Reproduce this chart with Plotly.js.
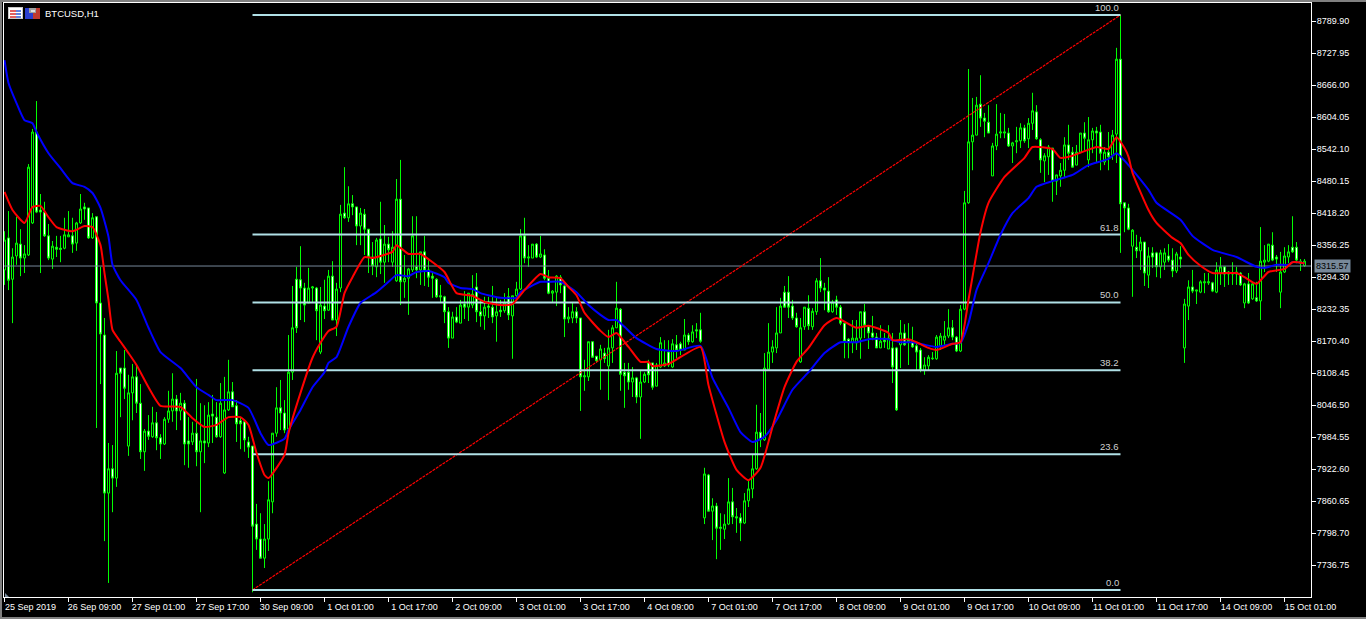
<!DOCTYPE html>
<html><head><meta charset="utf-8">
<script src="https://cdn.plot.ly/plotly-3.0.1.min.js"></script>
<style>html,body{margin:0;padding:0;background:#000;overflow:hidden}#c{width:1366px;height:619px}</style>
</head><body><div id="c"></div>
<script>
const tickLabels=["25 Sep 2019","26 Sep 09:00","27 Sep 01:00","27 Sep 17:00","30 Sep 09:00","1 Oct 01:00","1 Oct 17:00","2 Oct 09:00","3 Oct 01:00","3 Oct 17:00","4 Oct 09:00","7 Oct 01:00","7 Oct 17:00","8 Oct 09:00","9 Oct 01:00","9 Oct 17:00","10 Oct 09:00","11 Oct 01:00","11 Oct 17:00","14 Oct 09:00","15 Oct 01:00"];
const priceTicks=[8789.90,8727.95,8666.00,8604.05,8542.10,8480.15,8418.20,8356.25,8294.30,8232.35,8170.40,8108.45,8046.50,7984.55,7922.60,7860.65,7798.70,7736.75];
const directions="BWBBWBBBWW"+"WWBWWBBWBB"+"WWBWWWBWBW"+"WBBWWBWBWW"+"BBBWBWWBWB"+"WBWWBBBWWW"+"WWWWWBBBBW"+"WBBWWWBBWB"+"WBWBBWBWWB"+"WWWBWBWBBW"+"BBBWBWWWWW"+"WWBWBWBBWW"+"BWWBWBWBBB"+"WBBWBWWBBW"+"WBBWWBBWWB"+"WBBBWWWBWB"+"BWWBBBWBWW"+"BWBWWBWBWW"+"BBWWWBBBBW"+"BBBBBWWWWB"+"BWBBWWWBWW"+"WWBBBWWWWB"+"WBWWBWBWWW"+"BBBBBBBWWB"+"BBBBWWWBBB"+"BWBBBWBBWW"+"BBWBBBWWBB"+"WBBWWBWBBW"+"WWBWBWBWWB"+"BWWBWBBWBB"+"BBWBBWWBBW"+"BWBWBBBWWB"+"BBWWBB";
const highs=[8383,8422,8350,8411,8387,8356,8513,8581,8635,8455,8440,8397,8364,8374,8374,8409,8422,8409,8401,8455,8438,8428,8418,8411,8314,8215,7973,7969,8151,8118,8153,8105,8126,8122,8087,8000,8027,8043,8033,7990,8023,8074,8108,8066,8070,8056,8023,8014,8097,8050,8046,8052,8066,8052,8089,8101,8134,8091,8056,8023,8017,7985,7967,7855,7837,7816,7899,7992,8081,8095,8056,8182,8277,8314,8354,8283,8312,8277,8275,8275,8289,8308,8325,8283,8434,8507,8470,8453,8430,8428,8426,8387,8362,8370,8440,8395,8372,8383,8484,8521,8337,8312,8412,8412,8343,8374,8327,8304,8292,8279,8258,8236,8227,8236,8250,8267,8263,8298,8302,8250,8256,8256,8277,8256,8250,8263,8273,8258,8285,8387,8409,8356,8358,8360,8374,8348,8308,8269,8298,8298,8279,8236,8246,8236,8215,8134,8169,8169,8141,8163,8157,8192,8201,8285,8234,8128,8128,8120,8101,8114,8110,8134,8128,8128,8178,8172,8172,8174,8182,8169,8213,8186,8201,8205,8225,7925,7913,7866,7857,7837,7835,7905,7886,7847,7837,7876,7901,7950,8047,8031,8147,8205,8172,8236,8254,8277,8296,8250,8225,8215,8236,8259,8234,8292,8331,8283,8294,8250,8258,8240,8205,8176,8211,8211,8227,8242,8198,8219,8186,8201,8186,8201,8186,8159,8211,8203,8205,8198,8167,8157,8139,8143,8149,8182,8186,8209,8232,8211,8180,8240,8461,8697,8641,8643,8685,8612,8627,8554,8629,8612,8610,8583,8556,8585,8592,8589,8602,8651,8627,8563,8534,8550,8544,8492,8515,8565,8589,8546,8550,8573,8594,8604,8583,8585,8589,8546,8575,8579,8738,8802,8438,8436,8387,8376,8372,8362,8352,8352,8343,8347,8350,8358,8350,8343,8354,8252,8288,8308,8269,8288,8302,8302,8285,8323,8333,8314,8306,8323,8314,8304,8283,8302,8283,8285,8391,8356,8358,8381,8337,8343,8352,8356,8412,8362,8329,8329];
const bodyTops=[8366,8370,8333,8360,8358,8339,8507,8575,8575,8424,8420,8374,8354,8352,8350,8376,8376,8374,8399,8426,8430,8428,8409,8411,8244,8182,7923,7923,8108,8118,8118,8070,8101,8101,8050,7996,7996,8012,8012,7983,8019,8035,8058,8058,8050,8050,7977,7992,7992,7977,7977,8027,8029,8023,8050,8037,8072,8072,8045,8016,8014,7975,7967,7816,7787,7787,7863,7992,8041,8041,8031,8110,8196,8290,8289,8273,8273,8275,8273,8240,8238,8296,8296,8271,8416,8418,8436,8436,8430,8418,8416,8387,8333,8366,8368,8358,8358,8352,8445,8445,8292,8310,8374,8314,8343,8343,8308,8296,8290,8258,8256,8227,8217,8217,8240,8242,8263,8261,8275,8227,8236,8238,8236,8227,8230,8244,8256,8258,8271,8374,8374,8333,8358,8358,8339,8337,8292,8267,8296,8294,8277,8217,8227,8227,8215,8103,8169,8169,8141,8155,8147,8157,8196,8234,8232,8110,8110,8099,8099,8091,8106,8128,8128,8124,8167,8128,8149,8165,8163,8165,8182,8182,8188,8192,8192,7913,7911,7851,7851,7810,7816,7859,7859,7830,7828,7861,7884,7923,7994,7994,8118,8149,8159,8186,8238,8265,8265,8238,8215,8196,8236,8234,8228,8287,8287,8273,8267,8246,8250,8236,8205,8174,8176,8176,8227,8227,8198,8186,8178,8170,8176,8176,8157,8157,8186,8186,8172,8170,8161,8153,8124,8139,8137,8178,8180,8180,8196,8196,8178,8232,8438,8556,8569,8627,8629,8602,8594,8548,8571,8575,8575,8573,8554,8558,8583,8583,8592,8616,8614,8560,8529,8546,8544,8492,8501,8550,8550,8536,8536,8573,8573,8560,8577,8577,8575,8536,8536,8569,8716,8716,8438,8428,8385,8352,8362,8362,8335,8341,8341,8341,8341,8335,8327,8339,8333,8242,8275,8275,8269,8285,8285,8285,8283,8308,8314,8314,8304,8302,8304,8302,8281,8281,8281,8254,8325,8327,8358,8356,8333,8304,8335,8343,8352,8352,8325,8325];
const bodyBottoms=[8308,8288,8290,8335,8331,8331,8337,8399,8420,8420,8374,8331,8329,8348,8348,8350,8372,8358,8360,8399,8426,8370,8370,8244,8184,7876,7876,7905,7905,8108,8079,7967,8070,8050,7956,7956,7986,7985,7983,7971,7971,8019,8035,8035,8035,7971,7971,7975,7956,7956,7973,7973,8025,7985,7985,7915,8037,8043,8010,8010,7979,7965,7812,7787,7750,7750,7787,7859,7992,8031,7998,8000,8110,8196,8273,8240,8244,8273,8229,8149,8229,8230,8211,8211,8273,8409,8409,8430,8393,8393,8387,8333,8316,8314,8323,8323,8347,8323,8287,8285,8285,8292,8308,8308,8308,8308,8294,8292,8256,8256,8227,8176,8176,8207,8205,8236,8236,8240,8227,8219,8219,8236,8217,8219,8227,8229,8221,8219,8258,8271,8331,8331,8331,8333,8333,8292,8263,8263,8265,8279,8213,8213,8215,8215,8101,8101,8101,8139,8132,8134,8136,8122,8157,8196,8106,8103,8091,8091,8062,8062,8091,8105,8081,8083,8120,8122,8124,8120,8153,8153,8153,8169,8169,8190,8170,7828,7841,7841,7808,7808,7806,7816,7830,7828,7818,7818,7861,7884,7923,7979,7979,8116,8149,8157,8186,8236,8236,8215,8198,8130,8198,8200,8198,8227,8273,8269,8227,8227,8236,8205,8170,8167,8167,8167,8176,8201,8186,8178,8157,8157,8169,8155,8120,8037,8163,8163,8169,8159,8149,8114,8114,8122,8136,8136,8161,8172,8180,8178,8151,8151,8232,8438,8556,8569,8602,8596,8573,8490,8548,8573,8573,8548,8548,8556,8558,8558,8562,8592,8562,8521,8519,8527,8480,8480,8490,8501,8534,8507,8511,8536,8563,8521,8560,8573,8534,8517,8527,8530,8571,8436,8428,8387,8354,8345,8345,8302,8298,8333,8314,8314,8323,8327,8306,8306,8329,8157,8238,8267,8267,8265,8283,8283,8267,8265,8302,8300,8300,8300,8300,8279,8244,8244,8252,8248,8248,8323,8325,8327,8329,8265,8304,8333,8343,8327,8321,8316];
const lows=[8279,8269,8205,8318,8296,8302,8335,8397,8418,8302,8372,8327,8310,8333,8323,8348,8372,8341,8345,8397,8405,8368,8368,8002,8087,7783,7702,7839,7888,8023,8058,7948,8017,8031,7942,7919,7979,7983,7959,7942,7969,8012,8014,7998,8017,7930,7925,7969,7928,7839,7934,7965,7973,7983,7983,7913,8035,8043,7975,7961,7956,7944,7684,7766,7750,7731,7764,7837,7985,7998,7992,7998,8095,8186,8211,8207,8244,8246,8172,8145,8213,8229,8211,8180,8265,8407,8401,8414,8356,8356,8337,8302,8298,8294,8300,8283,8323,8314,8285,8240,8254,8221,8304,8292,8279,8277,8275,8254,8254,8244,8205,8157,8176,8205,8205,8213,8209,8234,8207,8198,8192,8215,8205,8169,8217,8225,8211,8136,8250,8269,8321,8314,8331,8331,8331,8288,8261,8246,8238,8263,8178,8205,8205,8205,8035,8074,8093,8139,8128,8076,8128,8056,8128,8196,8074,8041,8076,8062,8050,7981,8089,8089,8076,8083,8118,8120,8120,8118,8137,8143,8153,8163,8167,8176,8167,7816,7841,7785,7748,7766,7787,7814,7816,7799,7783,7816,7849,7866,7921,7965,7977,8116,8128,8147,8186,8236,8215,8211,8196,8128,8192,8192,8192,8221,8265,8230,8225,8225,8221,8201,8137,8137,8147,8153,8136,8176,8155,8172,8157,8157,8157,8155,8089,8035,8118,8161,8124,8157,8114,8110,8105,8114,8134,8134,8153,8163,8176,8172,8149,8149,8230,8436,8501,8569,8585,8565,8573,8490,8540,8563,8563,8546,8515,8534,8544,8554,8544,8579,8560,8496,8478,8492,8440,8453,8469,8486,8521,8507,8511,8534,8540,8507,8534,8515,8501,8511,8501,8521,8515,8341,8381,8385,8256,8331,8308,8277,8273,8312,8294,8292,8308,8323,8294,8302,8312,8128,8211,8263,8242,8263,8263,8279,8265,8263,8279,8275,8279,8279,8279,8277,8234,8242,8250,8246,8211,8304,8323,8325,8304,8234,8302,8321,8341,8321,8306,8314];
const blueBars=[0,1,3,5,7,8,11,14,17,20,22,24,26,27,29,33,36,39,44,48,51,53,57,61,64,66,70,71,74,77,80,81,83,86,89,93,96,98,101,103,106,110,111,114,117,119,124,128,129,134,136,139,143,146,149,151,153,155,158,163,168,174,177,181,184,187,190,193,197,201,205,209,213,216,221,224,227,230,233,237,239,241,243,246,249,252,256,258,262,267,271,276,278,281,286,288,294,297,302,308,313,315,318,321,322,325];
const blueValues=[8714,8670,8631,8598,8592,8575,8534,8505,8476,8469,8457,8428,8372,8318,8288,8250,8196,8149,8118,8081,8066,8056,8056,8041,7992,7969,7981,7998,8037,8081,8110,8128,8139,8198,8244,8265,8285,8298,8296,8304,8306,8294,8283,8273,8271,8263,8254,8254,8265,8285,8285,8285,8265,8240,8221,8211,8211,8198,8176,8155,8151,8161,8099,8041,7994,7975,7985,8017,8076,8110,8147,8168,8168,8174,8174,8168,8168,8163,8159,8165,8167,8205,8269,8321,8376,8418,8447,8469,8480,8492,8511,8523,8534,8511,8463,8438,8405,8374,8347,8333,8314,8312,8318,8318,8323,8321];
const redBars=[0,2,5,7,9,11,13,17,20,22,24,25,26,27,29,31,33,36,39,44,47,50,53,56,59,61,63,65,66,70,71,74,77,79,81,83,85,87,90,92,94,97,98,101,104,107,110,113,117,120,124,127,130,134,136,139,141,143,145,149,151,153,156,159,161,162,166,174,176,180,183,186,189,192,195,198,201,205,208,213,216,221,222,226,228,231,233,237,239,241,244,246,250,255,257,262,264,267,273,276,278,280,281,282,286,288,292,294,296,299,302,308,310,313,316,320,322,325];
const redValues=[8459,8424,8399,8430,8432,8410,8391,8383,8393,8391,8356,8302,8250,8192,8169,8147,8124,8081,8045,8043,8021,8004,8008,8023,8023,8008,7954,7911,7905,7950,7992,8070,8138,8167,8190,8198,8263,8294,8333,8331,8335,8343,8356,8339,8339,8323,8304,8263,8258,8246,8240,8242,8269,8300,8294,8292,8275,8259,8225,8190,8178,8186,8159,8130,8130,8122,8126,8159,8085,7975,7921,7901,7925,8004,8081,8130,8157,8201,8215,8196,8200,8186,8172,8174,8168,8157,8153,8165,8168,8250,8381,8438,8488,8525,8546,8542,8525,8529,8546,8542,8565,8544,8527,8496,8424,8399,8370,8360,8337,8316,8302,8302,8294,8281,8304,8310,8323,8321];
const fibLevels=[0,23.6,38.2,50,61.8,100];
const fibPrices=[7688.4,7951.1,8113.6,8245,8376.4,8801.6];
const fibStartBar=62, fibEndBar=279;
const lastPrice=8315.57;

const n=highs.length, bars=[...Array(n).keys()];
const opens=bars.map(i=>directions[i]==="B"?bodyBottoms[i]:bodyTops[i]);
const closes=bars.map(i=>directions[i]==="B"?bodyTops[i]:bodyBottoms[i]);
const xRange=[-0.125,326.625], yRange=[7674.8,8824.8];
const FONT="Liberation Sans, Arial, sans-serif";
const green="#00ff00", fibColor="#b0e0e6";

const traces=[
 {type:"scatter",mode:"lines",x:xRange,y:[lastPrice,lastPrice],line:{color:"#778899",width:1},hoverinfo:"skip"},
 {type:"candlestick",x:bars,open:opens,high:highs,low:lows,close:closes,
  increasing:{line:{color:green,width:1},fillcolor:"#000000"},
  decreasing:{line:{color:green,width:1},fillcolor:"#ffffff"},whiskerwidth:0,hoverinfo:"skip"},
 {type:"scatter",mode:"lines",x:[fibStartBar,fibEndBar],y:[fibPrices[0],fibPrices[5]],line:{color:"#ff0000",width:1.2,dash:"3px,1px"},hoverinfo:"skip"}
];
fibPrices.forEach(p=>traces.push({type:"scatter",mode:"lines",x:[fibStartBar,fibEndBar],y:[p,p],line:{color:fibColor,width:2},hoverinfo:"skip"}));
traces.push({type:"scatter",mode:"lines",x:blueBars,y:blueValues,line:{color:"#0000ff",width:2,shape:"spline",smoothing:0.5},hoverinfo:"skip"});
traces.push({type:"scatter",mode:"lines",x:redBars,y:redValues,line:{color:"#ff0000",width:2,shape:"spline",smoothing:0.5},hoverinfo:"skip"});

const ML=4,MT=3,PW=1307,PH=594;
const px=x=>(x-ML)/PW, py=y=>1-(y-MT)/PH;
const rect=(x0,y0,x1,y1,c)=>({type:"rect",xref:"paper",yref:"paper",x0:px(x0),x1:px(x1),y0:py(y1),y1:py(y0),fillcolor:c,line:{width:0},layer:"above"});
const shapes=[
 rect(0,0,1366,2,"#808080"),rect(0,0,2,619,"#808080"),rect(0,617,1366,619,"#808080"),
 rect(8,7,23,19,"#c8c8c8"),rect(9,8,22,18,"#ffffff"),rect(10,10,16,12,"#e06060"),rect(16,10,21,12,"#6080e0"),rect(10,13,16,15,"#e06060"),rect(16,13,21,15,"#6080e0"),rect(10,16,16,18,"#e06060"),rect(16,16,21,18,"#6080e0"),
 rect(25,8,33,19,"#2a3fd0"),rect(33,8,40,19,"#c03a30"),rect(29,8,36,13,"#a0a0a0"),rect(31,10,35,12,"#e0e0e0"),
 {type:"path",xref:"paper",yref:"paper",path:`M ${px(5)} ${py(597)} L ${px(9)} ${py(597)} L ${px(5)} ${py(593)} Z`,fillcolor:"#778899",line:{width:0},layer:"above"}
];
const annotations=fibPrices.map((p,k)=>({x:fibEndBar-0.4,y:p,xref:"x",yref:"y",xanchor:"right",yanchor:"bottom",xshift:2,showarrow:false,
  text:fibLevels[k].toFixed(1),font:{family:FONT,size:9.5,color:"#d0d0d0"}}));
annotations.push({xref:"paper",yref:"paper",x:px(43),y:py(13.5),xanchor:"left",yanchor:"middle",showarrow:false,text:"BTCUSD,H1",font:{family:FONT,size:9.5,color:"#ffffff"}});
annotations.push({xref:"paper",yref:"y",x:px(1314),y:lastPrice,xanchor:"left",yanchor:"middle",showarrow:false,text:lastPrice.toFixed(2),bgcolor:"#778899",font:{family:FONT,size:9,color:"#000000"},borderpad:1});

const layout={width:1366,height:619,paper_bgcolor:"#000",plot_bgcolor:"#000",showlegend:false,
 margin:{l:ML,r:1366-ML-PW,t:MT,b:619-MT-PH,pad:0},
 xaxis:{type:"linear",range:xRange,rangeslider:{visible:false},showgrid:false,zeroline:false,
  tickmode:"array",tickvals:tickLabels.map((_,i)=>i*16),ticktext:tickLabels,ticks:"outside",ticklen:4,tickwidth:1,tickcolor:"#fff",
  showline:true,linecolor:"#fff",linewidth:1,mirror:true,ticklabelshift:26,ticklabelstandoff:-3,tickangle:0,
  tickfont:{family:FONT,size:9,color:"#fff"}},
 yaxis:{side:"right",range:yRange,showgrid:false,zeroline:false,tickmode:"array",tickvals:priceTicks,ticktext:priceTicks.map(v=>v.toFixed(2)),
  ticks:"outside",ticklen:4,tickwidth:1,tickcolor:"#fff",showline:true,linecolor:"#fff",linewidth:1,mirror:true,ticklabelstandoff:-1,
  tickfont:{family:FONT,size:9,color:"#fff"}},
 boxgap:0.5,boxgroupgap:0,shapes,annotations};
Plotly.newPlot("c",traces,layout,{staticPlot:true,displayModeBar:false});
</script></body></html>
